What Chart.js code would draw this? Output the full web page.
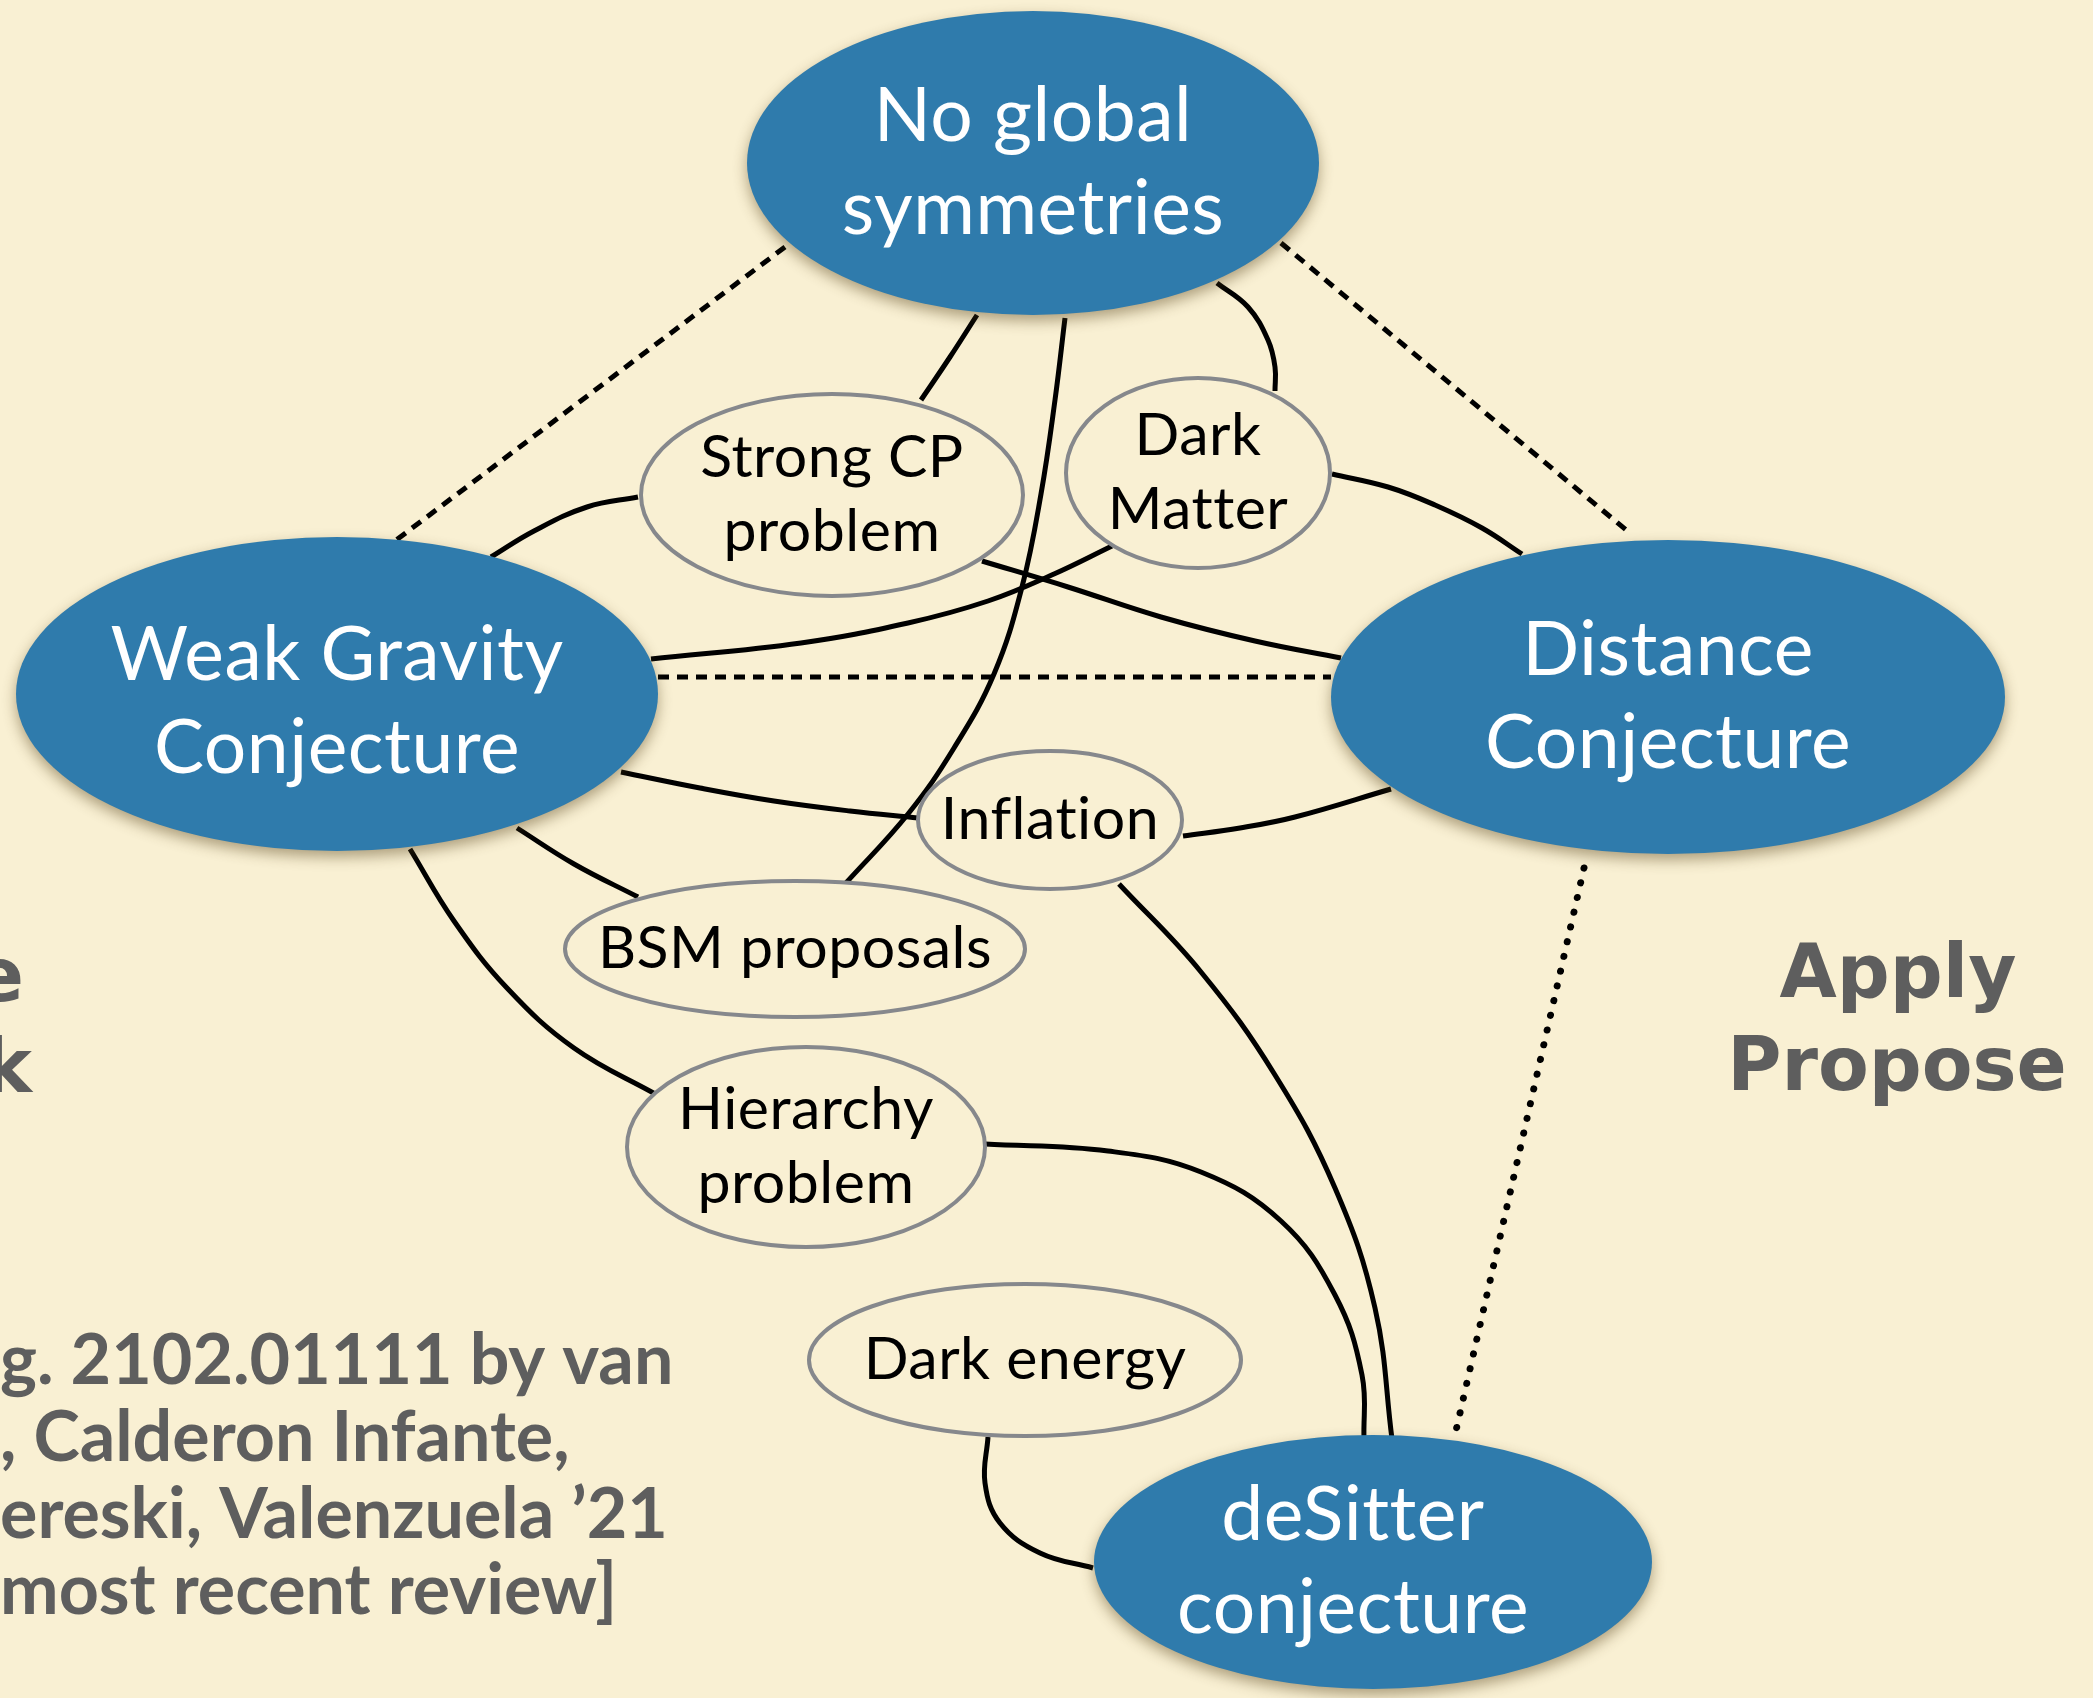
<!DOCTYPE html>
<html>
<head>
<meta charset="utf-8">
<script src="https://cdn.jsdelivr.net/npm/chart.js@4"></script>
<style>
  html, body { margin: 0; padding: 0; background: #f9f0d3; }
  #wrap { width: 2093px; height: 1698px; }
</style>
</head>
<body>
<div id="wrap"><canvas id="diagram" width="2093" height="1698"></canvas></div>
<script>
// nodes of the diagram (centre in page units)
const nodeNames = ["No global\nsymmetries", "Weak Gravity\nConjecture", "Distance\nConjecture", "deSitter\nconjecture",
    "Strong CP\nproblem", "Dark\nMatter", "Inflation", "BSM proposals", "Hierarchy\nproblem", "Dark energy"];
const nodeX = [1033, 337, 1668, 1373, 832, 1198, 1050, 795, 806, 1025];
const nodeY = [163, 694, 697, 1562, 495, 473, 820, 949, 1147, 1360];
const nodeRx = [286, 321, 337, 279, 191, 132, 132, 230, 179, 216];
const nodeRy = [152, 157, 157, 127, 101, 95, 69, 68, 100, 76];
const nodeMain = [true, true, true, true, false, false, false, false, false, false];

// solid links: waypoints of each curve
const solidLinks = [
    [[977, 315], [950, 357], [921, 400]],
    [[1065, 318], [1055, 400], [1041, 494], [1022, 587], [994, 674], [954, 748], [908, 814], [845, 884]],
    [[1217, 283], [1248, 307], [1268, 340], [1275, 367], [1275, 391]],
    [[638, 497], [587, 507], [534, 531], [491, 557]],
    [[982, 561], [1068, 587], [1161, 617], [1255, 641], [1341, 658]],
    [[1112, 546], [1054, 574], [988, 601], [908, 623], [801, 643], [651, 659]],
    [[1332, 474], [1388, 487], [1435, 505], [1482, 528], [1522, 554]],
    [[621, 772], [700, 788], [774, 801], [850, 811], [918, 818]],
    [[1183, 836], [1240, 828], [1295, 817], [1391, 789]],
    [[517, 828], [574, 864], [638, 897]],
    [[410, 849], [454, 921], [507, 988], [574, 1048], [657, 1095]],
    [[1119, 884], [1201, 972], [1275, 1075], [1335, 1188], [1375, 1308], [1392, 1439]],
    [[985, 1144], [1108, 1151], [1201, 1172], [1281, 1221], [1335, 1295], [1362, 1375], [1364, 1439]],
    [[988, 1437], [985, 1483], [1000, 1523], [1040, 1553], [1093, 1568]]
];
const dashedLinks = [
    [[785, 247], [387, 547]],
    [[1281, 243], [1631, 534]],
    [[658, 677], [1331, 677]]
];
const dottedLinks = [
    [[1584, 868], [1455, 1435]]
];

const sideWords = ["Apply", "Propose"];
const leftWords = ["e", "k"];
const refLines = ["g. 2102.01111 by van", ", Calderon Infante,", "ereski, Valenzuela \u201921", "most recent review]"];

const blue = "#2f7bac";
const grey = "#5e5e5e";
const labelFont = "Lato, 'Open Sans', sans-serif";

const datasets = [];
solidLinks.forEach(pts => datasets.push({
    type: "line",
    data: pts.map(p => ({ x: p[0], y: p[1] })),
    borderColor: "#000",
    borderWidth: 5,
    tension: 0.4,
    pointRadius: 0,
    fill: false
}));
dashedLinks.forEach(pts => datasets.push({
    type: "line",
    data: pts.map(p => ({ x: p[0], y: p[1] })),
    borderColor: "#000",
    borderWidth: 5,
    borderDash: [11, 8],
    pointRadius: 0,
    fill: false
}));
dottedLinks.forEach(pts => datasets.push({
    type: "line",
    data: pts.map(p => ({ x: p[0], y: p[1] })),
    borderColor: "#000",
    borderWidth: 7,
    borderDash: [0.1, 15],
    borderCapStyle: "round",
    pointRadius: 0,
    fill: false
}));

const nodePlugin = {
    id: "nodes",
    beforeDraw(chart) {
        const ctx = chart.ctx;
        ctx.save();
        ctx.fillStyle = "#f9f0d3";
        ctx.fillRect(0, 0, chart.width, chart.height);
        ctx.restore();
    },
    afterDatasetsDraw(chart) {
        const ctx = chart.ctx;
        const xs = chart.scales.x, ys = chart.scales.y;
        nodeNames.forEach((name, i) => {
            const cx = xs.getPixelForValue(nodeX[i]);
            const cy = ys.getPixelForValue(nodeY[i]);
            const rx = Math.abs(xs.getPixelForValue(nodeX[i] + nodeRx[i]) - cx);
            const ry = Math.abs(ys.getPixelForValue(nodeY[i] + nodeRy[i]) - cy);
            ctx.save();
            ctx.beginPath();
            ctx.ellipse(cx, cy, rx, ry, 0, 0, Math.PI * 2);
            if (nodeMain[i]) {
                ctx.shadowColor = "rgba(80,60,20,0.45)";
                ctx.shadowBlur = 14;
                ctx.shadowOffsetY = 6;
                ctx.fillStyle = blue;
                ctx.fill();
            } else {
                ctx.fillStyle = "#f9f0d3";
                ctx.fill();
                ctx.lineWidth = 4;
                ctx.strokeStyle = "#86888c";
                ctx.stroke();
            }
            ctx.restore();

            const lines = name.split("\n");
            const size = nodeMain[i] ? 75 : 59;
            const gap = nodeMain[i] ? 93 : 74;
            const shiftY = i === 1 ? 8 : 0;
            const shiftX = i === 3 ? -20 : 0;
            ctx.save();
            ctx.fillStyle = nodeMain[i] ? "#ffffff" : "#000000";
            ctx.font = size + "px " + labelFont;
            ctx.letterSpacing = "0.5px";
            ctx.textAlign = "center";
            ctx.textBaseline = "middle";
            lines.forEach((ln, k) => {
                const off = (k - (lines.length - 1) / 2) * gap;
                ctx.fillText(ln, cx + shiftX, cy + off + shiftY);
            });
            ctx.restore();
        });

        // surrounding slide text
        ctx.save();
        ctx.fillStyle = grey;
        ctx.font = "bold 74px 'DejaVu Sans', sans-serif";
        ctx.textAlign = "center";
        ctx.textBaseline = "alphabetic";
        ctx.fillText(sideWords[0], 1898, 997);
        ctx.fillText(sideWords[1], 1897, 1090);
        ctx.textAlign = "right";
        ctx.fillText(leftWords[0], 24, 1001);
        ctx.fillText(leftWords[1], 32, 1092);
        ctx.textAlign = "left";
        ctx.font = "bold 70px Lato, sans-serif";
        const base = [1384, 1461, 1538, 1614];
        refLines.forEach((ln, k) => ctx.fillText(ln, 0, base[k]));
        ctx.restore();
    }
};

new Chart(document.getElementById("diagram"), {
    type: "scatter",
    data: { datasets },
    options: {
        responsive: false,
        animation: false,
        layout: { padding: 0 },
        plugins: { legend: { display: false }, tooltip: { enabled: false } },
        scales: {
            x: { type: "linear", min: 0, max: 2093, display: false },
            y: { type: "linear", min: 0, max: 1698, reverse: true, display: false }
        }
    },
    plugins: [nodePlugin]
});
</script>
</body>
</html>
